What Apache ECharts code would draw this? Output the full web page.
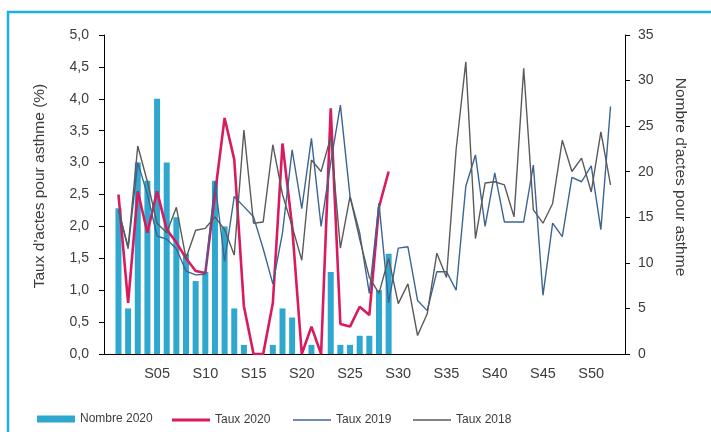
<!DOCTYPE html>
<html><head><meta charset="utf-8">
<script src="https://cdn.jsdelivr.net/npm/echarts@6/dist/echarts.min.js"></script>
<style>html,body{margin:0;padding:0;background:#fff}#c{width:711px;height:432px}</style>
</head><body><div id="c"></div><script>
const weeks = ['S01','S02','S03','S04','S05','S06','S07','S08','S09','S10','S11','S12','S13',
  'S14','S15','S16','S17','S18','S19','S20','S21','S22','S23','S24','S25','S26',
  'S27','S28','S29','S30','S31','S32','S33','S34','S35','S36','S37','S38','S39',
  'S40','S41','S42','S43','S44','S45','S46','S47','S48','S49','S50','S51','S52'];
const labeledWeeks = ['S05','S10','S15','S20','S25','S30','S35','S40','S45','S50'];
const leftTicks = [0,0.5,1,1.5,2,2.5,3,3.5,4,4.5,5];
const rightTicks = [0,5,10,15,20,25,30,35];
const leftTitle = "Taux d'actes pour asthme (%)";
const rightTitle = "Nombre d'actes pour asthme";

const nombre2020 = [16,5,21,19,28,21,15,11,8,9,19,14,5,1,0,0,1,5,4,0,1,0,9,1,1,2,2,7,11];
const taux2020 = [2.5,0.8,2.55,1.9,2.55,1.95,1.75,1.5,1.3,1.27,2.5,3.7,3.05,0.75,0,0,0.8,3.3,2.0,0,
  0.43,0,3.85,0.47,0.43,0.74,0.61,2.3,2.86];
const taux2019 = [2.25,1.65,3.0,2.5,1.85,1.8,1.65,1.3,1.24,1.25,2.7,1.45,2.47,2.31,2.15,1.65,1.1,1.9,
  3.2,2.28,3.38,2.0,3.0,3.9,2.47,1.9,0.95,2.36,0.8,1.66,1.68,0.84,0.68,1.29,1.29,1.0,2.63,3.12,
  2.0,2.84,2.07,2.07,2.07,2.96,0.92,2.05,1.84,2.77,2.7,2.95,1.95,3.88];
const taux2018 = [2.26,1.68,3.26,2.7,2.05,1.9,2.3,1.5,1.94,1.97,2.15,1.95,1.55,3.51,2.05,2.07,3.28,
  2.5,2.0,1.47,3.04,2.86,3.4,1.66,2.47,1.8,1.2,0.95,1.5,0.79,1.1,0.29,0.63,1.58,1.2,3.21,4.58,
  1.81,2.68,2.7,2.65,2.15,4.48,2.26,2.05,2.36,3.35,2.86,3.07,2.54,3.48,2.65];

const categories = [''].concat(weeks, ['']);
function pad(arr){ const out = [null].concat(arr); while(out.length < categories.length) out.push(null); return out; }

const FONT = '"Liberation Sans", Arial, sans-serif';
const TXT = '#3c3c3c';
const chart = echarts.init(document.getElementById('c'), null, {renderer:'canvas'});
const showWeek = (i, v) => labeledWeeks.indexOf(v) >= 0;
const legendText = {fontSize:12, color:TXT, fontFamily:FONT};
chart.setOption({
  animation:false,
  backgroundColor:'#fff',
  textStyle:{fontFamily:FONT},
  graphic:[
    {type:'rect', shape:{x:8,y:12,width:760,height:480}, style:{fill:'none', stroke:'#1ab0e8', lineWidth:2.5}, silent:true},
    {type:'text', x:40, y:186, rotation:Math.PI/2, silent:true,
      style:{text:leftTitle, fontSize:15.5, fontFamily:FONT, fill:TXT, align:'center', verticalAlign:'middle', textAlign:'center', textVerticalAlign:'middle'}},
    {type:'text', x:680, y:177, rotation:-Math.PI/2, silent:true,
      style:{text:rightTitle, fontSize:15.5, fontFamily:FONT, fill:TXT, align:'center', verticalAlign:'middle', textAlign:'center', textVerticalAlign:'middle'}}
  ],
  grid:{left:104, right:86, top:35, bottom:78, containLabel:false},
  legend:[
    {left:32, top:408, itemWidth:38, itemHeight:7, itemStyle:{borderWidth:0}, textStyle:legendText, data:[{name:'Nombre 2020', icon:'rect'}]},
    {left:167, top:409, itemWidth:38, itemHeight:3, itemStyle:{borderWidth:0}, textStyle:legendText, data:[{name:'Taux 2020', icon:'rect'}]},
    {left:288, top:409, itemWidth:38, itemHeight:1.5, itemStyle:{borderWidth:0}, textStyle:legendText, data:[{name:'Taux 2019', icon:'rect'}]},
    {left:408, top:409, itemWidth:38, itemHeight:1.5, itemStyle:{borderWidth:0}, textStyle:legendText, data:[{name:'Taux 2018', icon:'rect'}]}
  ],
  xAxis:{type:'category', data:categories, boundaryGap:true,
    axisLine:{lineStyle:{color:'#000', width:1}},
    axisTick:{interval:showWeek, length:5, lineStyle:{color:'#000'}},
    axisLabel:{interval:showWeek, margin:12, fontSize:14.5, color:TXT, fontFamily:FONT},
    splitLine:{show:false}},
  yAxis:[
    {type:'value', min:leftTicks[0], max:leftTicks[leftTicks.length-1], interval:0.5, position:'left',
      axisLine:{show:true, lineStyle:{color:'#000'}},
      axisTick:{show:true, length:5, lineStyle:{color:'#000'}},
      axisLabel:{margin:15, fontSize:14, color:TXT, fontFamily:FONT, formatter:v => v.toFixed(1).replace('.', ',')},
      splitLine:{show:false}},
    {type:'value', min:rightTicks[0], max:rightTicks[rightTicks.length-1], interval:5, position:'right',
      axisLine:{show:true, lineStyle:{color:'#000'}},
      axisTick:{show:true, length:5, lineStyle:{color:'#000'}},
      axisLabel:{margin:13, fontSize:14, color:TXT, fontFamily:FONT},
      splitLine:{show:false}}
  ],
  series:[
    {name:'Nombre 2020', type:'bar', yAxisIndex:1, data:pad(nombre2020), barWidth:6, color:'#2fa8cf', itemStyle:{color:'#2fa8cf'}},
    {name:'Taux 2020', type:'line', yAxisIndex:0, data:pad(taux2020), symbol:'none', color:'#d81b60', lineStyle:{color:'#d81b60', width:2.6}},
    {name:'Taux 2019', type:'line', yAxisIndex:0, data:pad(taux2019), symbol:'none', color:'#3b6592', lineStyle:{color:'#3b6592', width:1.4}},
    {name:'Taux 2018', type:'line', yAxisIndex:0, data:pad(taux2018), symbol:'none', color:'#5a5a5a', lineStyle:{color:'#5a5a5a', width:1.4}}
  ]
});
</script></body></html>
